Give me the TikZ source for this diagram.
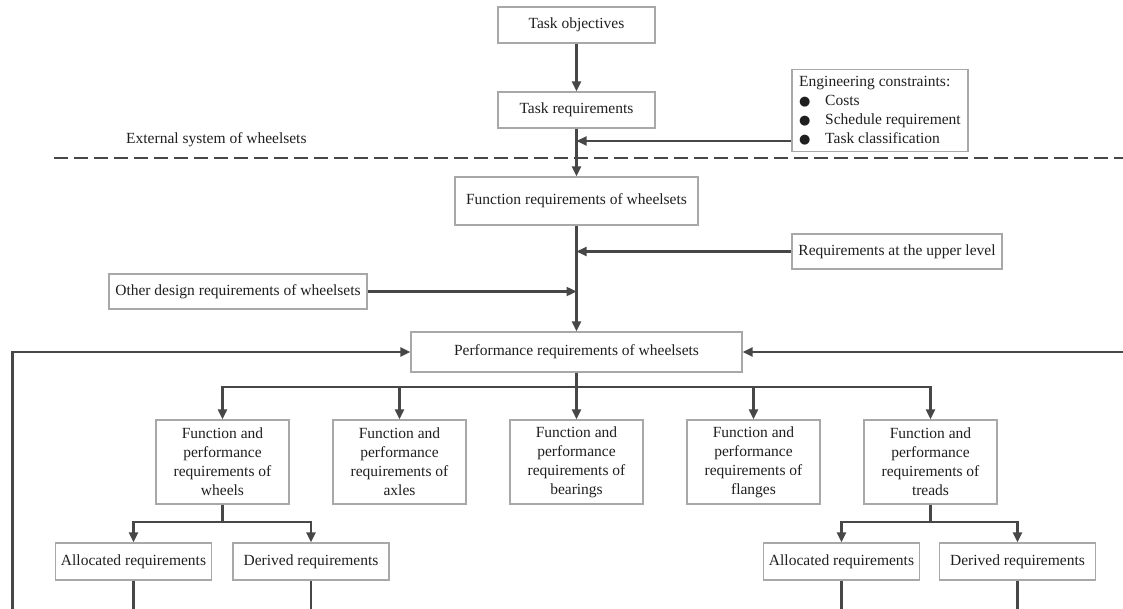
\documentclass[tikz,border=0pt]{standalone}
\usepackage{fontspec}
\setmainfont{Liberation Serif}
\newfontfamily\symfont{DejaVu Sans}
\usepackage{tikz}
\usetikzlibrary{positioning,arrows.meta}
\definecolor{linegray}{HTML}{474747}
\definecolor{boxgray}{HTML}{A8A8A8}
\tikzstyle{req} = [rectangle, draw=boxgray, line width=1.3pt, align=center, inner sep=2pt, text=black!88]
\tikzstyle{subreq} = [req, minimum width=133pt, minimum height=84pt]
\tikzstyle{leaf} = [req, minimum width=156pt, minimum height=37pt]
\tikzstyle{arrow} = [line width=2.3pt, draw=linegray, -{Triangle[length=10pt,width=9pt]}]
\tikzstyle{link} = [line width=2.3pt, draw=linegray]
\tikzstyle{boundary} = [line width=2.2pt, draw=linegray, dash pattern=on 14pt off 6pt]
\newcommand{\cbullet}{\makebox[26pt][l]{\symfont\fontsize{13}{19}\selectfont ●}}

\begin{document}
\begin{tikzpicture}[x=1pt, y=-1pt, font=\fontsize{15.5}{19}\selectfont, node distance=177pt]
\useasboundingbox (0,0) rectangle (1123,609);

% external system
\node (taskobj) [req, minimum width=157pt, minimum height=36pt] at (576.5,25) {Task objectives};
\node (taskreq) [req, minimum width=157pt, minimum height=36pt] at (576.5,110) {Task requirements};
\node (constraints) [req, minimum width=176pt, minimum height=82pt, align=left] at (880,110.5)
  {Engineering constraints:\\ \cbullet Costs\\ \cbullet Schedule requirement\\ \cbullet Task classification};
\node (extlabel) [anchor=west, inner sep=0pt, text=black!88] at (126,140) {External system of wheelsets};

% wheelset level
\node (funcreq) [req, minimum width=243pt, minimum height=48pt] at (576.5,201) {Function requirements of wheelsets};
\node (upper) [req, minimum width=210pt, minimum height=35pt] at (897,251.5) {Requirements at the upper level};
\node (other) [req, minimum width=258pt, minimum height=35pt] at (238,291.5) {Other design requirements of wheelsets};
\node (perf) [req, minimum width=331pt, minimum height=40pt] at (576.5,352) {Performance requirements of wheelsets};

% components
\node (bearings) [subreq] at (576.5,462) {Function and\\performance\\requirements of\\bearings};
\node (axles) [subreq, left of=bearings] {Function and\\performance\\requirements of\\axles};
\node (wheels) [subreq, left of=axles] {Function and\\performance\\requirements of\\wheels};
\node (flanges) [subreq, right of=bearings] {Function and\\performance\\requirements of\\flanges};
\node (treads) [subreq, right of=flanges] {Function and\\performance\\requirements of\\treads};

\node (allocw) [leaf] at (133.5,561.5) {Allocated requirements};
\node (derivw) [leaf] at (311,561.5) {Derived requirements};
\node (alloct) [leaf] at (841.5,561.5) {Allocated requirements};
\node (derivt) [leaf] at (1017.5,561.5) {Derived requirements};

\coordinate (jc) at (576.5,141);
\coordinate (dl) at (54,158);
\coordinate (dr) at (1123,158);
\coordinate (split) at (576.5,387);
\coordinate (fbl) at (12.5,609);
\coordinate (fbr) at (1123,352);
\coordinate (bottom) at (0,609);

\draw [boundary] (dl) -- (dr);

\draw [arrow] (taskobj) -- (taskreq);
\draw [arrow] (taskreq) -- (funcreq);
\draw [arrow] (constraints.west |- jc) -- (jc);
\draw [arrow] (upper.west) -- (upper.west -| funcreq.south);
\draw [arrow] (other.east) -- (other.east -| funcreq.south);
\draw [arrow] (funcreq) -- (perf);

% feedback
\draw [arrow] (fbl) |- (perf.west);
\draw [arrow] (fbr) -- (perf.east);

\foreach \n in {wheels,axles,flanges,treads}
  \draw [arrow] (perf.south) -- (split) -| (\n.north);
\draw [arrow] (perf) -- (bearings);

\foreach \p/\a/\d in {wheels/allocw/derivw, treads/alloct/derivt} {
  \draw [arrow] (\p.south) -- ++(0,17) -| (\a.north);
  \draw [arrow] (\p.south) -- ++(0,17) -| (\d.north);
}
\foreach \n in {allocw,derivw,alloct,derivt}
  \draw [link] (\n.south) -- (\n.south |- bottom);
\end{tikzpicture}
\end{document}
